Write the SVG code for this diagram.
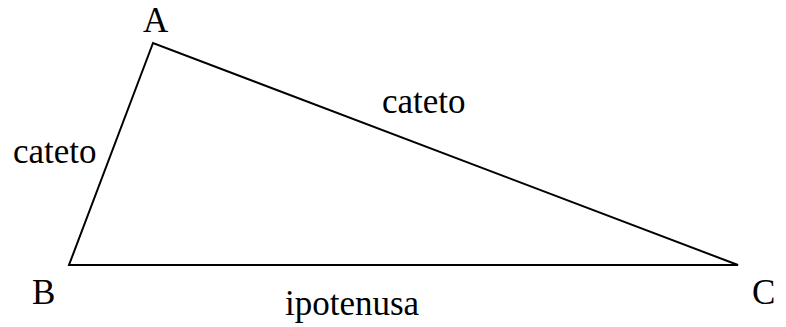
<svg xmlns="http://www.w3.org/2000/svg" width="786" height="327" viewBox="0 0 786 327">
<style>
text{font-family:"Liberation Serif","Times New Roman",serif;font-size:35px;fill:#000}
.edge{fill:none;stroke:#000;stroke-width:2}
</style>
<rect width="786" height="327" fill="#fff"/>
<g id="connectors">
<path class="edge" d="M153,43 L69,265 L738,265 Z" stroke-linejoin="miter"/>
</g>
<g id="A"><text x="143" y="32">A</text></g>
<g id="B"><text x="32" y="304">B</text></g>
<g id="C"><text x="752" y="304">C</text></g>
<g id="cateto-left"><text x="13" y="163">cateto</text></g>
<g id="cateto-top"><text x="382" y="113">cateto</text></g>
<g id="ipotenusa"><text x="285" y="315">ipotenusa</text></g>
</svg>
